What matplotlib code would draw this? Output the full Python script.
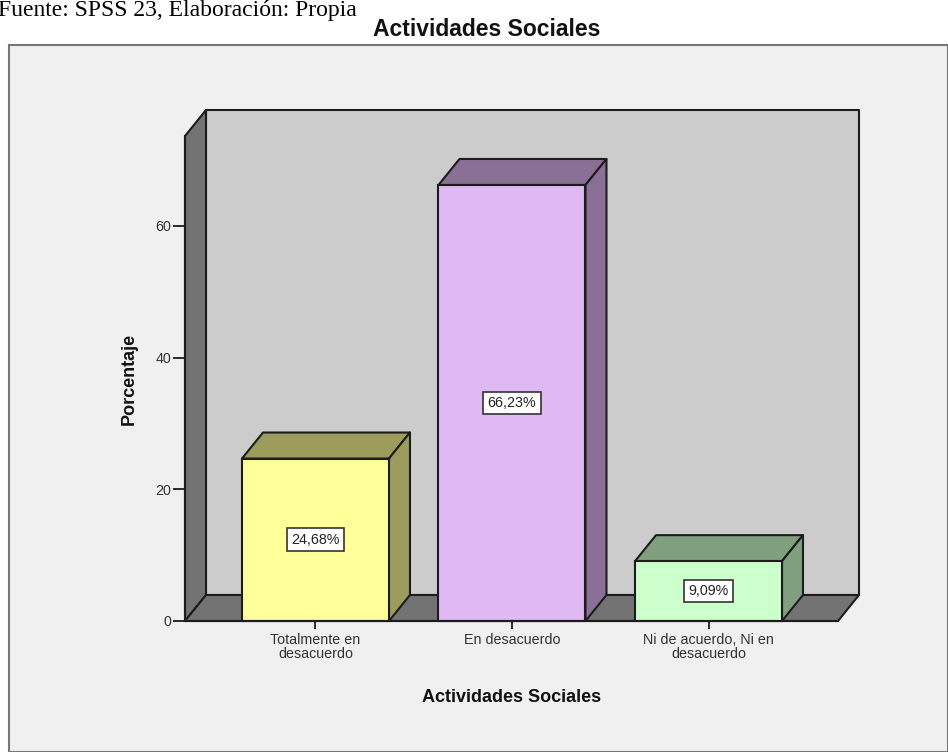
import matplotlib
matplotlib.use('Agg')
import matplotlib.pyplot as plt
from matplotlib.patches import Polygon, Rectangle

categories = ['Totalmente en\ndesacuerdo', 'En desacuerdo', 'Ni de acuerdo, Ni en\ndesacuerdo']
values = [24.68, 66.23, 9.09]
value_labels = ['24,68%', '66,23%', '9,09%']
yticks = [0, 20, 40, 60]
front_colors = ['#ffff99', '#dfb9f4', '#ccffcc']
shade_colors = ['#9c9c5c', '#8a7096', '#7f9f7f']

W, H = 948, 752
EDGE = '#1c1c1c'

plt.rcParams['font.family'] = ['Liberation Sans', 'DejaVu Sans']

fig = plt.figure(figsize=(W / 100, H / 100), dpi=100, facecolor='white')

# panel behind the chart
fig.add_artist(Rectangle((9 / W, 0), (W - 9) / W, (H - 45) / H, transform=fig.transFigure,
                         facecolor='#f0f0f0', edgecolor='#777777', linewidth=1.5, zorder=-1))

# front plane of the 3d box, in pixels: x 185-838, y 136-621
ax = fig.add_axes([185 / W, 1 - 621 / H, (838 - 185) / W, (621 - 136) / H])
ax.patch.set_alpha(0)
xmin, xmax = -0.664, 2.659
ymax = 73.67
ax.set_xlim(xmin, xmax)
ax.set_ylim(0, ymax)

dx = 21 / 196.5
dy = 26 / 6.583
width = 0.748


def poly(pts, fc, z):
    ax.add_patch(Polygon(pts, closed=True, facecolor=fc, edgecolor=EDGE, linewidth=1.5,
                         clip_on=False, zorder=z, joinstyle='round'))


# walls and floor
poly([(xmin + dx, dy), (xmax + dx, dy), (xmax + dx, ymax + dy), (xmin + dx, ymax + dy)], '#cccccc', 1)
poly([(xmin, 0), (xmin + dx, dy), (xmin + dx, ymax + dy), (xmin, ymax)], '#737373', 1.1)
poly([(xmin, 0), (xmax, 0), (xmax + dx, dy), (xmin + dx, dy)], '#737373', 1.1)

xpos = list(range(len(values)))
ax.bar(xpos, values, width=width, color=front_colors, edgecolor=EDGE, linewidth=1.5, zorder=3, clip_on=False)

for x, v, shade, lab in zip(xpos, values, shade_colors, value_labels):
    left = x - width / 2
    right = x + width / 2
    poly([(left, v), (right, v), (right + dx, v + dy), (left + dx, v + dy)], shade, 2.5)
    poly([(right, 0), (right + dx, dy), (right + dx, v + dy), (right, v)], shade, 2.5)
    ax.text(x, v / 2, lab, ha='center', va='center', fontsize=10.3, color='#222222', zorder=5,
            bbox=dict(boxstyle='square,pad=0.3', facecolor='white', edgecolor='#333333', linewidth=1.2))

for side in ['top', 'right']:
    ax.spines[side].set_visible(False)
for side in ['left', 'bottom']:
    ax.spines[side].set_color(EDGE)
    ax.spines[side].set_linewidth(1.5)
    ax.spines[side].set_zorder(4)

ax.set_yticks(yticks)
ax.set_xticks(xpos)
ax.set_xticklabels(categories, linespacing=0.95)
ax.tick_params(axis='y', length=9, width=1.3, color=EDGE, labelsize=10.3, labelcolor='#333333', pad=1)
ax.tick_params(axis='x', length=6, width=1.3, color=EDGE, labelsize=10.3, labelcolor='#333333', pad=3)

fig.text(511.5 / W, 1 - 702 / H, 'Actividades Sociales', ha='center', va='baseline',
         fontsize=13, fontweight='bold', color='#111111')
fig.text(129 / W, 1 - 379 / H, 'Porcentaje', ha='center', va='center', rotation=90,
         fontsize=13, fontweight='bold', color='#111111')

fig.text(487 / W, 1 - 36 / H, 'Actividades Sociales', ha='center', va='baseline',
         fontsize=16.5, fontweight='bold', color='#111111')
fig.text(357 / W, 1 - 16 / H, 'Fuente: SPSS 23, Elaboración: Propia', ha='right', va='baseline',
         fontsize=17, family=['Liberation Serif'], color='black')

fig.savefig('out.png', dpi=100)
